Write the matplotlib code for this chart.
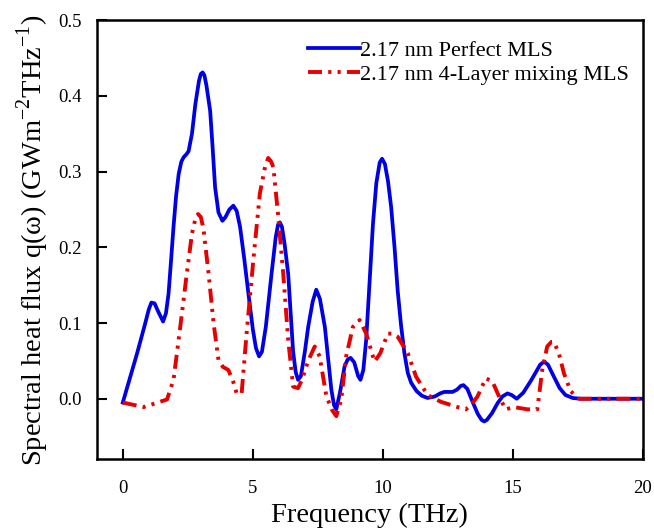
import matplotlib
matplotlib.use("Agg")
import matplotlib.pyplot as plt

plt.rcParams['font.family'] = ['Liberation Serif', 'DejaVu Serif']
plt.rcParams['mathtext.fontset'] = 'custom'
plt.rcParams['mathtext.rm'] = 'Liberation Serif'

# Perfect MLS (blue)
freq_perfect = [0.0, 0.55, 0.85, 1.0, 1.10, 1.22, 1.35, 1.55, 1.66, 1.76, 1.85, 1.95, 2.05,
                2.15, 2.25, 2.34, 2.45, 2.53, 2.66, 2.79, 2.93, 3.0, 3.07, 3.14, 3.22, 3.36,
                3.45, 3.55, 3.68, 3.83, 3.95, 4.1, 4.25, 4.38, 4.51, 4.67, 4.83, 5.0, 5.12,
                5.24, 5.35, 5.5, 5.72, 5.88, 5.97, 6.04, 6.12, 6.22, 6.36, 6.55, 6.65,
                6.74, 6.85, 7.0, 7.13, 7.3, 7.44, 7.58, 7.77, 8.02, 8.12, 8.21, 8.35,
                8.53, 8.65, 8.76, 8.9, 9.05, 9.14, 9.25, 9.36, 9.5, 9.62, 9.75, 9.88,
                9.97, 10.08, 10.2, 10.32, 10.45, 10.57, 10.7, 10.83, 10.96, 11.09, 11.3,
                11.5, 11.72, 12.0, 12.2, 12.36, 12.5, 12.68, 12.85, 13.0, 13.1, 13.25,
                13.45, 13.65, 13.8, 13.9, 14.0, 14.2, 14.41, 14.6, 14.79, 14.95, 15.15,
                15.4, 15.68, 15.9, 16.05, 16.2, 16.35, 16.58, 16.8, 17.02, 17.3, 17.6,
                18.5, 20.0]
flux_perfect = [-0.005, 0.060, 0.098, 0.118, 0.127, 0.126, 0.116, 0.102, 0.113, 0.139, 0.18, 0.227, 0.268,
                0.297, 0.313, 0.319, 0.323, 0.327, 0.350, 0.389, 0.420, 0.429, 0.431, 0.427, 0.413, 0.380,
                0.334, 0.279, 0.246, 0.235, 0.240, 0.250, 0.255, 0.248, 0.227, 0.185, 0.139, 0.092, 0.067,
                0.056, 0.062, 0.095, 0.165, 0.213, 0.230, 0.233, 0.227, 0.205, 0.165, 0.062, 0.035,
                0.025, 0.030, 0.062, 0.095, 0.128, 0.144, 0.132, 0.095, 0.012, -0.008, -0.014, 0.008,
                0.043, 0.052, 0.054, 0.048, 0.030, 0.025, 0.038, 0.078, 0.160, 0.231, 0.285, 0.312,
                0.317, 0.310, 0.287, 0.253, 0.200, 0.143, 0.097, 0.060, 0.034, 0.021, 0.010,
                0.004, 0.001, 0.003, 0.007, 0.009, 0.009, 0.009, 0.012, 0.017, 0.018, 0.013,
                -0.004, -0.020, -0.028, -0.030, -0.028, -0.019, -0.006, 0.003, 0.007, 0.005, 0.000,
                0.008, 0.023, 0.036, 0.045, 0.049, 0.045, 0.029, 0.014, 0.005, 0.001, 0.0,
                0.0, 0.0]

# 4-Layer mixing MLS (red)
freq_mixing = [0.0, 0.4, 0.8, 1.25, 1.70, 1.95, 2.21, 2.46, 2.66, 2.78, 2.89, 3.0, 3.10,
               3.30, 3.49, 3.68, 3.85, 4.06, 4.25, 4.38, 4.57, 4.76, 5.02, 5.27, 5.47,
               5.59, 5.69, 5.79, 5.98, 6.17, 6.36, 6.55, 6.74, 6.9, 7.06, 7.22, 7.38,
               7.57, 7.83, 8.05, 8.21, 8.40, 8.59, 8.85, 9.11, 9.36, 9.68, 9.9, 10.19,
               10.38, 10.57, 10.96, 11.28, 11.72, 12.23, 12.87, 13.19, 13.4, 13.64, 13.96,
               14.21, 14.47, 14.72, 15.04, 15.56, 15.94, 16.13, 16.32, 16.48, 16.58,
               16.77, 16.96, 17.22, 17.54, 20.0]
flux_mixing = [-0.005, -0.008, -0.011, -0.006, -0.001, 0.025, 0.095, 0.165, 0.218, 0.236, 0.244, 0.240, 0.225,
               0.165, 0.100, 0.051, 0.042, 0.038, 0.022, 0.007, 0.007, 0.086, 0.183, 0.271, 0.306,
               0.318, 0.314, 0.306, 0.240, 0.165, 0.078, 0.016, 0.014, 0.026, 0.043, 0.057, 0.069,
               0.056, 0.003, -0.015, -0.023, -0.001, 0.056, 0.095, 0.104, 0.086, 0.049, 0.060, 0.086,
               0.086, 0.082, 0.060, 0.029, 0.005, -0.004, -0.011, -0.014, -0.008, 0.003, 0.027,
               0.023, 0.003, -0.014, -0.011, -0.014, -0.014, 0.038, 0.069, 0.075, 0.075,
               0.060, 0.034, 0.010, 0.0, 0.0]

x_ticks = [0, 5, 10, 15, 20]
y_ticks = [0.0, 0.1, 0.2, 0.3, 0.4, 0.5]

fig = plt.figure(figsize=(6.54, 5.31), dpi=100)
ax = fig.add_axes([0.148, 0.135, 0.835, 0.827])

ax.plot(freq_perfect, flux_perfect, color='#0000e6', lw=2.7,
        label='2.17 nm Perfect MLS', solid_joinstyle='round')
ax.plot(freq_mixing, flux_mixing, color='#e60000', lw=2.8,
        dashes=(3.6, 1.6, 0.8, 1.6, 0.8, 1.6),
        label='2.17 nm 4-Layer mixing MLS')

ax.set_xlim(-1.0, 20.0)
ax.set_ylim(-0.08, 0.5)
ax.set_xticks(x_ticks)
ax.set_xticklabels([str(t) for t in x_ticks])
ax.set_yticks(y_ticks)
ax.set_yticklabels([f'{t:.1f}' for t in y_ticks])
ax.tick_params(direction='in', length=7, width=1.5, labelsize=13.5)
ax.tick_params(axis='x', pad=15)
ax.tick_params(axis='y', pad=11)
for s in ax.spines.values():
    s.set_linewidth(1.8)

ax.set_xlabel('Frequency (THz)', fontsize=20.5, labelpad=4)
ax.set_ylabel('Spectral heat flux q(ω) (GWm$^{-2}$THz$^{-1}$)', fontsize=20.5, labelpad=5)

ax.legend(loc='upper right', frameon=False, fontsize=16, handlelength=2.3,
          handletextpad=0.0, borderaxespad=0.2, labelspacing=0.15,
          bbox_to_anchor=(0.998, 0.985))

fig.savefig('out.png', dpi=100)
